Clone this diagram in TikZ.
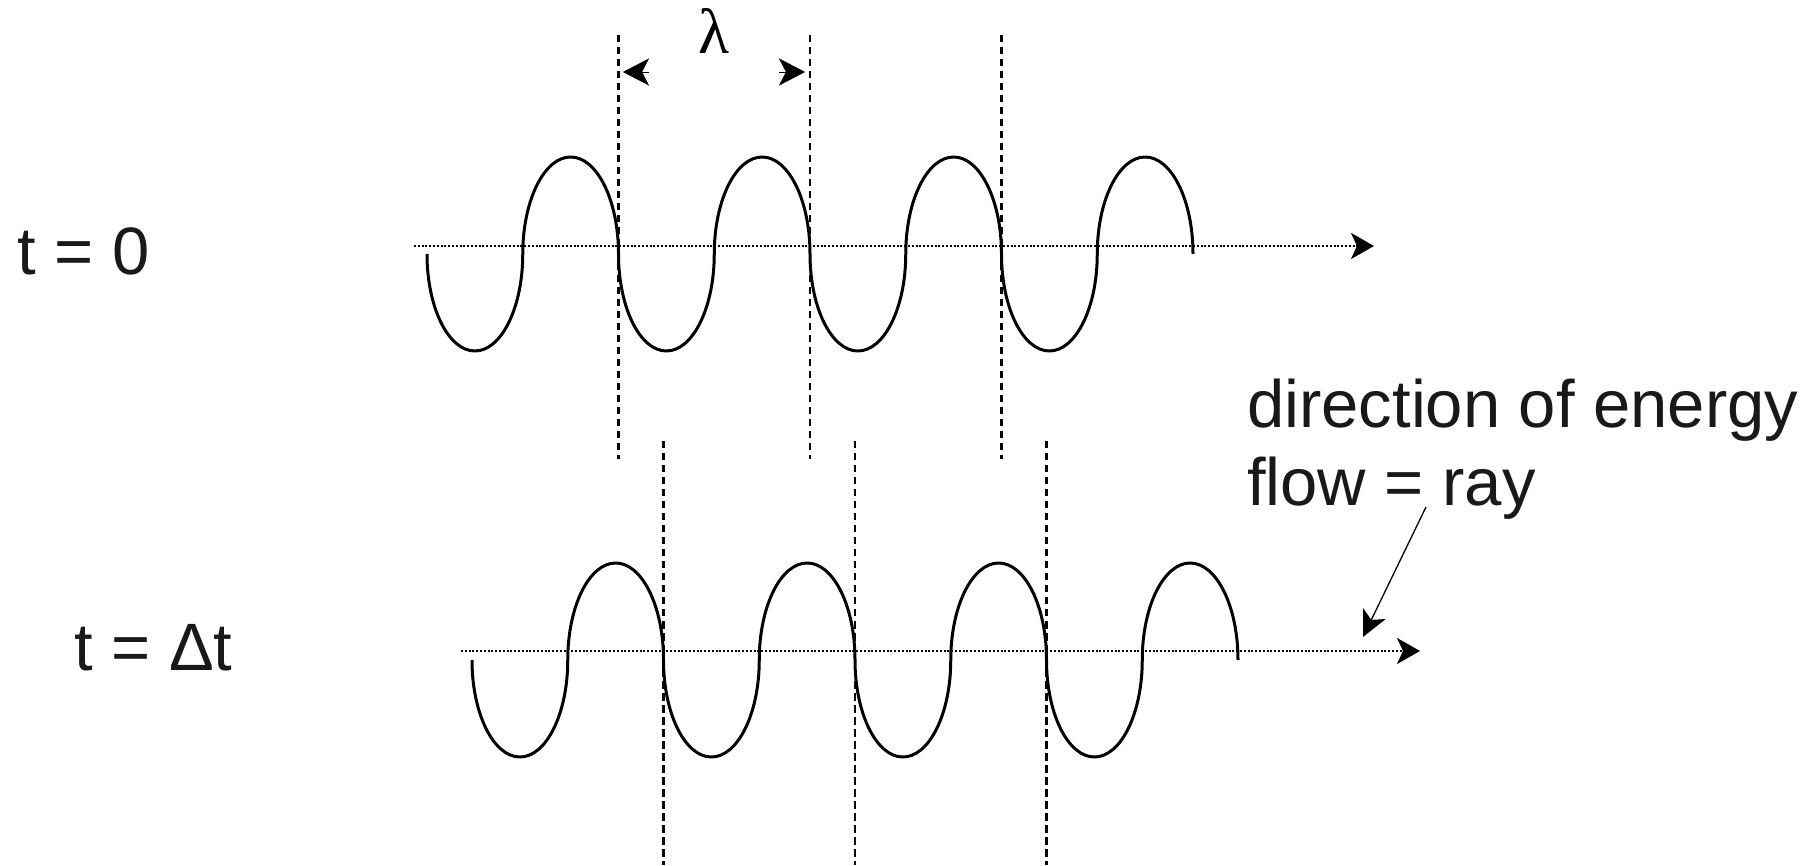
\documentclass[tikz,border=0pt]{standalone}
\usepackage{fontspec}
\setmainfont{Liberation Sans}
\newfontfamily\lamfont{Liberation Serif}
\usetikzlibrary{arrows.meta}
\tikzset{
  wave/.style={line width=3pt, x radius=47.875, y radius=97, line join=round},
  axisline/.style={line width=2.6pt, dash pattern=on 2pt off 1.8pt, -{Stealth[length=23pt,width=26pt,inset=6pt]}},
  marker/.style={line width=2.6pt, dash pattern=on 7.5pt off 4.5pt},
  lamarrow/.style={line width=0.1pt, -{Stealth[length=26pt,width=27pt,inset=7pt]}},
  pointer/.style={line width=1.3pt, -{Stealth[length=26pt,width=25pt,inset=7pt]}},
  lbl/.style={inner sep=0pt, anchor=base west, font=\fontsize{67}{78}\selectfont, text=black!90},
}
\begin{document}
\begin{tikzpicture}[x=1pt,y=1pt]
\useasboundingbox (0,0) rectangle (1819,865);
% axes
\coordinate (a1s) at (414,619);
\coordinate (a1e) at (1374,619);
\coordinate (a2s) at (461,214);
\coordinate (a2e) at (1420,214);
\draw[axisline] (a1s) -- (a1e);
\draw[axisline] (a2s) -- (a2e);
% waves
\coordinate (w1) at (427,611);
\coordinate (w2) at (472,205);
\draw[wave] (w1) \foreach \i in {1,...,4} {arc[start angle=180,end angle=360] arc[start angle=180,end angle=0]};
\draw[wave] (w2) \foreach \i in {1,...,4} {arc[start angle=180,end angle=360] arc[start angle=180,end angle=0]};
% dashed markers top
\foreach \x/\n in {618.5/ta,810/tb,1001.5/tc}{
  \coordinate (\n1) at (\x,830);
  \coordinate (\n2) at (\x,406);
  \draw[marker] (\n1) -- (\n2);
}
% dashed markers bottom
\foreach \x/\n in {663.5/ba,855/bb,1046.5/bc}{
  \coordinate (\n1) at (\x,424);
  \coordinate (\n2) at (\x,0);
  \draw[marker] (\n1) -- (\n2);
}
% lambda
\node[inner sep=0pt, font=\lamfont\fontsize{64}{64}\selectfont] (lam) at (714,834) {λ};
\coordinate (lLb) at (649,793);
\coordinate (lLt) at (623,793);
\coordinate (lRb) at (779,793);
\coordinate (lRt) at (805,793);
\draw[lamarrow] (lLb) -- (lLt);
\draw[lamarrow] (lRb) -- (lRt);
% labels
\node[lbl] (t0) at (17,590) {t = 0};
\node[lbl] (tdt) at (74,195) {t = Δt};
\node[lbl] (dir1) at (1247,437) {direction of energy};
\node[lbl] (dir2) at (1247,359) {flow = ray};
\coordinate (ps) at (1426,358);
\coordinate (pe) at (1363,228);
\draw[pointer] (ps) -- (pe);
\end{tikzpicture}
\end{document}
